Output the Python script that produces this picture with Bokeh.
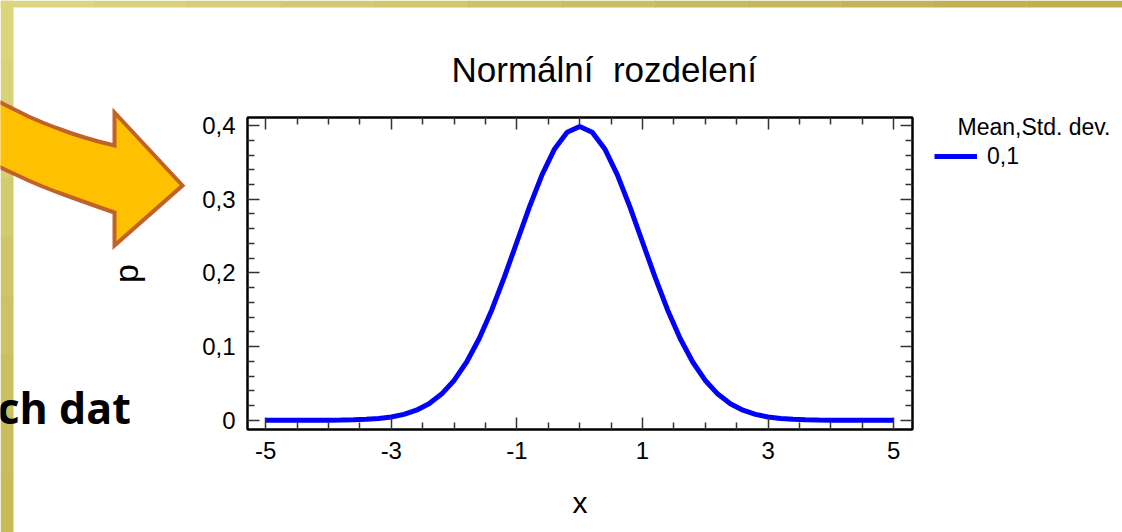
from bokeh.plotting import figure
from bokeh.models import (LinearAxis, FixedTicker, CustomJSTickFormatter, Legend, LegendItem,
                          Range1d)
from bokeh.core.properties import value
from bokeh.embed import file_html
from bokeh.resources import INLINE

# ---- data: density of the normal distribution (mean 0, std. dev. 1) ----
x_vals = [-5.0, -4.8, -4.6, -4.4, -4.2, -4.0, -3.8, -3.6, -3.4, -3.2,
          -3.0, -2.8, -2.6, -2.4, -2.2, -2.0, -1.8, -1.6, -1.4, -1.2,
          -1.0, -0.8, -0.6, -0.4, -0.2, 0.0, 0.2, 0.4, 0.6, 0.8,
          1.0, 1.2, 1.4, 1.6, 1.8, 2.0, 2.2, 2.4, 2.6, 2.8,
          3.0, 3.2, 3.4, 3.6, 3.8, 4.0, 4.2, 4.4, 4.6, 4.8, 5.0]
p_vals = [0.0000, 0.0000, 0.0000, 0.0000, 0.0001, 0.0001, 0.0003, 0.0006, 0.0012, 0.0024,
          0.0044, 0.0079, 0.0136, 0.0224, 0.0355, 0.0540, 0.0790, 0.1109, 0.1497, 0.1942,
          0.2420, 0.2897, 0.3332, 0.3683, 0.3910, 0.3989, 0.3910, 0.3683, 0.3332, 0.2897,
          0.2420, 0.1942, 0.1497, 0.1109, 0.0790, 0.0540, 0.0355, 0.0224, 0.0136, 0.0079,
          0.0044, 0.0024, 0.0012, 0.0006, 0.0003, 0.0001, 0.0001, 0.0000, 0.0000, 0.0000, 0.0000]

x_major_ticks = [-5, -3, -1, 1, 3, 5]
x_minor_ticks = [-4.5, -4, -3.5, -2.5, -2, -1.5, -0.5, 0, 0.5, 1.5, 2, 2.5, 3.5, 4, 4.5]
y_major_ticks = [0, 0.1, 0.2, 0.3, 0.4]
y_minor_ticks = [0.02, 0.04, 0.06, 0.08, 0.12, 0.14, 0.16, 0.18,
                 0.22, 0.24, 0.26, 0.28, 0.32, 0.34, 0.36, 0.38]

title_text = "Normální\u00a0 rozdelení"
legend_title = "Mean,Std. dev."
series_label = "0,1"
slide_text = "ch dat"

W, H = 1122, 532
FL, FR, FT, FB = 247, 912, 117, 429   # plot frame edges in page pixels
FONT = "Liberation Sans"
LINE_COLOR = "#0000FF"
LINE_WIDTH = 5
OVERLAY = {"position": "absolute", "top": "0px", "left": "0px"}

# ================= slide background layer (page pixel coordinates) =================
bg = figure(width=W, height=H, output_backend="svg", toolbar_location=None,
            x_range=Range1d(0, W), y_range=Range1d(H, 0),
            x_axis_type=None, y_axis_type=None, min_border=0,
            outline_line_color=None, background_fill_color="white",
            border_fill_color="white", styles=OVERLAY)
bg.grid.visible = False

# golden frame strips with a soft gradient
top_cols = ["#DBD67E", "#D8D27A", "#D5CE76", "#D2CA72", "#CFC66E", "#CCC26A",
            "#C9BE66", "#C6BA62", "#C4B75E", "#C2B35A", "#C1B152", "#C0AF4A"]
seg = W / len(top_cols)
bg.quad(left=[i * seg for i in range(len(top_cols))],
        right=[(i + 1) * seg + 1 for i in range(len(top_cols))],
        top=[0] * len(top_cols), bottom=[7] * len(top_cols),
        fill_color=top_cols, line_color=None)
left_cols = ["#DBD67E", "#D8D37A", "#D5CF75", "#D2CB70", "#CFC66B", "#CCC266",
             "#CABF61", "#C8BC5C", "#C7BA57"]
seg = H / len(left_cols)
bg.quad(left=[0] * len(left_cols), right=[13] * len(left_cols),
        top=[i * seg for i in range(len(left_cols))],
        bottom=[(i + 1) * seg + 1 for i in range(len(left_cols))],
        fill_color=left_cols, line_color=None)

# heading fragment of the slide
bg.text(x=[-3], y=[407], text=[slide_text], text_font=value("Open Sans"),
        text_font_style="bold", text_font_size="43px", text_color="black",
        text_baseline="alphabetic", text_align="left")

# curved block arrow pointing at the chart
arrow_top = [(-8, 98), (0, 102), (14, 109), (28, 116), (42, 122), (56, 127.5),
             (70, 132.5), (84, 137), (98, 141), (114, 145)]
arrow_head = [(114, 112), (182, 185), (114, 245)]
arrow_bottom = [(114, 212), (98, 206.5), (84, 201.5), (70, 196.5), (56, 191.5),
                (42, 186), (28, 180), (14, 173.5), (0, 167), (-8, 163)]
arrow_px = arrow_top + arrow_head + arrow_bottom
bg.patch([a for a, b in arrow_px], [b for a, b in arrow_px],
         fill_color="#FFC000", line_color="#C0622A", line_width=4, line_join="miter")

# legend: heading and the series entry (the swatch renderer itself paints nothing)
bg.text(x=[957], y=[126], text=[legend_title], text_font=value(FONT),
        text_font_size="23px", text_color="black", text_baseline="alphabetic")
swatch = bg.line(x=[float("nan")], y=[float("nan")], line_color=LINE_COLOR, line_width=LINE_WIDTH)
legend = Legend(items=[LegendItem(label=series_label, renderers=[swatch])],
                location=(934, H - 156 - 15), padding=0, margin=0, spacing=0,
                glyph_width=43, glyph_height=30, label_height=30, label_standoff=10,
                label_text_font=FONT, label_text_font_size="23px", label_text_color="black",
                border_line_color=None, background_fill_alpha=0)
bg.add_layout(legend)

# ================= chart layer =================
p = figure(width=W, height=H, output_backend="svg", toolbar_location=None,
           x_range=Range1d(-5.29, 5.30), y_range=Range1d(-0.0126, 0.411),
           min_border_left=FL, min_border_right=W - FR,
           min_border_top=FT, min_border_bottom=H - FB,
           x_axis_label="x", y_axis_label="p",
           background_fill_color="white", border_fill_color=None,
           outline_line_color="black", outline_line_width=2, styles=OVERLAY)
p.grid.visible = False

p.title.text = title_text
p.title.text_font = FONT
p.title.text_font_size = "35px"
p.title.text_font_style = "normal"
p.title.text_color = "black"
p.title.align = "left"
p.title.offset = 204
p.title.standoff = 58

yfmt = CustomJSTickFormatter(code="return tick == 0 ? '0' : tick.toFixed(1).replace('.', ',');")
xfmt = CustomJSTickFormatter(code="return tick.toFixed(0);")
nofmt = CustomJSTickFormatter(code="return '';")


def style_axis(ax):
    ax.axis_line_color = "black"
    ax.axis_line_width = 2
    ax.major_tick_in = 12
    ax.major_tick_out = 0
    ax.minor_tick_in = 7
    ax.minor_tick_out = 0
    ax.major_tick_line_color = "#333333"
    ax.minor_tick_line_color = "#333333"
    ax.major_tick_line_width = 1.5
    ax.minor_tick_line_width = 1.5
    ax.major_label_text_font = FONT
    ax.major_label_text_color = "black"
    ax.major_label_text_font_size = "24px"
    ax.major_label_standoff = 12
    ax.axis_label_text_font = FONT
    ax.axis_label_text_font_style = "normal"
    ax.axis_label_text_color = "black"
    ax.axis_label_text_font_size = "32px"


xt = FixedTicker(ticks=x_major_ticks, minor_ticks=x_minor_ticks)
yt = FixedTicker(ticks=y_major_ticks, minor_ticks=y_minor_ticks)

xa = p.xaxis[0]
xa.ticker = xt
xa.formatter = xfmt
style_axis(xa)
xa.axis_label_text_font_size = "30px"
xa.axis_label_standoff = 24

ya = p.yaxis[0]
ya.ticker = yt
ya.formatter = yfmt
style_axis(ya)
ya.axis_label_text_font_size = "34px"
ya.axis_label_standoff = 54

# mirrored tick marks on the top and right frame edges
for side, tk in (("above", xt), ("right", yt)):
    ax = LinearAxis(ticker=tk, formatter=nofmt)
    style_axis(ax)
    ax.major_label_text_color = None
    ax.major_label_standoff = 0
    p.add_layout(ax, side)

# ---- curve ----
p.line(x_vals, p_vals, line_color=LINE_COLOR, line_width=LINE_WIDTH)

open("out.html", "w").write(file_html([bg, p], INLINE))
